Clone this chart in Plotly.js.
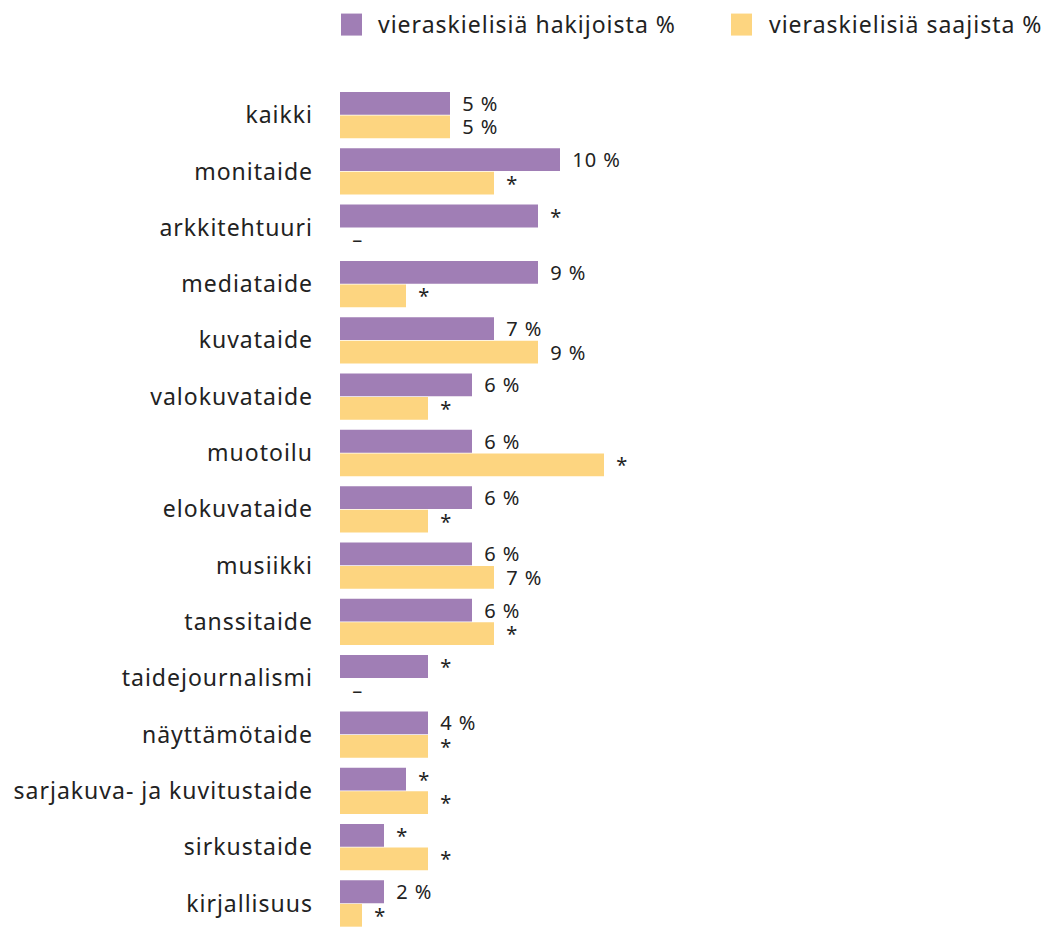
<!DOCTYPE html>
<html>
<head>
<meta charset="utf-8">
<script src="https://cdn.plot.ly/plotly-3.0.1.min.js"></script>
<style>
html,body{margin:0;padding:0;background:#fff;}
#chart{width:1046px;height:927px;}
svg text{letter-spacing:1px;}
</style>
</head>
<body>
<div id="chart"></div>
<script>
const categories = ["kaikki","monitaide","arkkitehtuuri","mediataide","kuvataide","valokuvataide","muotoilu","elokuvataide","musiikki","tanssitaide","taidejournalismi","näyttämötaide","sarjakuva- ja kuvitustaide","sirkustaide","kirjallisuus"];
const hakijoita = [5,10,9,9,7,6,6,6,6,6,4,4,3,2,2];
const hakijoitaLabels = ["5 %","10 %","*","9 %","7 %","6 %","6 %","6 %","6 %","6 %","*","4 %","*","*","2 %"];
const saajia = [5,7,0,3,9,4,12,4,7,7,0,4,4,4,1];
const saajiaLabels = ["5 %","*","–","*","9 %","*","*","*","7 %","*","–","*","*","*","*"];
const seriesNames = ["vieraskielisiä hakijoista %","vieraskielisiä saajista %"];
const colors = ["#a07eb5","#fdd580"];

const W = 1046, H = 927;
const L = 340, R = 2, T = 87.4, B = 0;
const pw = W - L - R, ph = H - T - B;
const px = x => (x - L) / pw;
const py = y => (H - B - y) / ph;

const pad = s => "\u00a0\u200a" + s;
const font = "'Noto Sans', 'Open Sans', sans-serif";

const traces = [
  {type:"bar", orientation:"h", y:categories, x:hakijoita, name:seriesNames[0],
   marker:{color:colors[0]}, text:hakijoitaLabels.map(pad), textposition:"outside",
   textfont:{size:20,color:"#222",family:font}, cliponaxis:false, constraintext:"none", hoverinfo:"x+y"},
  {type:"bar", orientation:"h", y:categories, x:saajia, name:seriesNames[1],
   marker:{color:colors[1]}, text:saajiaLabels.map(pad), textposition:"outside",
   textfont:{size:20,color:"#222",family:font}, cliponaxis:false, constraintext:"none", hoverinfo:"x+y"}
];

const shapes = [], annotations = [];
const legendItems = [{x0:341,x1:362,tx:377},{x0:731,x1:752,tx:768}];
legendItems.forEach((it,i)=>{
  shapes.push({type:"rect", xref:"paper", yref:"paper", x0:px(it.x0), x1:px(it.x1), y0:py(36), y1:py(14),
    fillcolor:colors[i], line:{width:0}});
  annotations.push({xref:"paper", yref:"paper", x:px(it.tx), y:py(24), xanchor:"left", yanchor:"middle",
    text:seriesNames[i], showarrow:false, borderpad:0, font:{size:23,color:"#222",family:font}});
});

const layout = {
  width:W, height:H,
  margin:{l:L, r:R, t:T, b:B, pad:0},
  paper_bgcolor:"#fff", plot_bgcolor:"#fff",
  barmode:"group", bargap:0.165, bargroupgap:0.03,
  showlegend:false,
  font:{family:font, color:"#222"},
  xaxis:{visible:false, range:[0,32], fixedrange:true},
  yaxis:{type:"category", range:[14.417,-0.5], showgrid:false, zeroline:false, showline:false,
    ticks:"", ticklabelstandoff:26, tickfont:{size:23,color:"#222",family:font}, fixedrange:true},
  shapes:shapes, annotations:annotations
};

Plotly.newPlot("chart", traces, layout, {displayModeBar:false, staticPlot:true});
</script>
</body>
</html>
